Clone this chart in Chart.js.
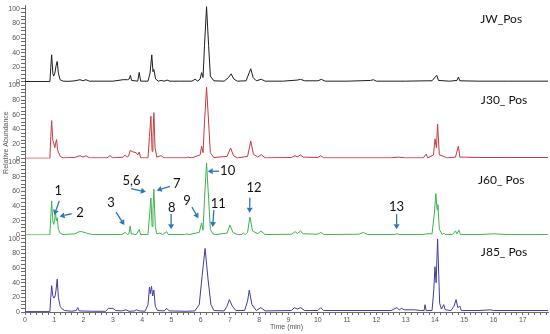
<!DOCTYPE html>
<html><head><meta charset="utf-8">
<script src="https://cdn.jsdelivr.net/npm/chart.js@4.4.1/dist/chart.umd.min.js"></script>
<style>html,body{margin:0;padding:0;background:#fff;}#wrap{position:relative;width:550px;height:334px;}</style>
</head><body><div id="wrap"><canvas id="c" width="550" height="334"></canvas></div>
<script>
// ---------- DATA ----------
const seriesNames = ['JW_Pos', 'J30_ Pos', 'J60_ Pos', 'J85_ Pos'];

const jwTime = [0,0.85,0.88,0.91,0.95,0.98,1.02,1.06,1.10,1.14,1.2,1.3,1.5,1.7,1.88,1.98,2.08,2.2,2.6,3.0,3.35,3.5,3.56,3.6,3.64,3.85,3.9,3.95,4.2,4.27,4.33,4.37,4.40,4.46,4.55,4.65,4.75,4.85,4.95,5.3,5.7,5.81,5.9,5.98,6.03,6.08,6.13,6.20,6.27,6.33,6.45,6.8,6.95,7.04,7.13,7.25,7.55,7.65,7.71,7.79,7.9,8.07,8.2,8.8,9.3,9.41,9.55,10.0,10.12,10.25,11.0,11.8,11.9,12.0,13.0,13.7,13.9,14.06,14.12,14.5,14.75,14.8,14.85,15.5,16.5,17.86];
const jwAbund = [0.5,0.5,20,37,12,8,12,22,28,12,3,1,0.8,1.5,3,1.5,3,1,1,1,3,3,4,9,2,1,13,1,1,12,37,14,17,4,1,2,1,2.5,1,1,1,3.6,1,4,12.6,6,50,103,50,8,1.5,1,6,11,4,1,1.5,12,18,6,1.5,3.6,1,1,2.5,3.5,1.5,1.5,3.5,1,1,2,3,1,1,1.5,1.5,9,2,1,2,6.7,1.5,1,1,1];

const j30Time = [0,0.85,0.88,0.91,0.95,0.99,1.02,1.05,1.08,1.11,1.15,1.2,1.3,1.7,1.88,1.98,2.08,2.2,2.8,2.9,3.0,3.35,3.42,3.5,3.55,3.59,3.7,3.8,3.85,3.9,3.95,4.2,4.25,4.30,4.34,4.37,4.40,4.44,4.5,4.65,4.75,5.5,5.55,5.7,5.98,6.03,6.08,6.13,6.20,6.27,6.33,6.45,6.9,7.02,7.12,7.25,7.6,7.71,7.8,7.95,8.07,8.2,9.1,9.22,9.3,9.41,9.5,10.0,10.1,10.2,12.5,12.75,13.0,13.6,13.7,13.75,13.95,14.0,14.05,14.09,14.15,14.3,14.4,14.7,14.8,14.85,15.0,15.5,16.5,17.86];
const j30Abund = [0.5,0.5,30,52,25,20,15,22,26,12,8,3,1,1.5,4,2,4,1,1,4,1,2,5,2,5,11,9,8,5,9,1,1,30,58,10,30,63,15,2,4,1,1,2,1,5,17,8,50,98,50,8,1.5,3,14.6,4,1,3,24,6,2,5.5,1,1.5,4,2.5,5,2,1.5,4,1,1,2,1,1,6,1,5,27,15,47,5,3,1,2,17,2,2,1.5,1.5,1.5];

const j60Time = [0,0.85,0.88,0.91,0.95,0.98,1.01,1.04,1.07,1.10,1.14,1.2,1.3,1.7,1.85,1.94,2.1,2.3,3.3,3.42,3.5,3.55,3.59,3.63,3.8,3.9,3.95,4.2,4.26,4.30,4.34,4.37,4.40,4.45,4.5,4.6,4.7,4.84,4.9,5.45,5.53,5.6,5.95,6.03,6.08,6.13,6.20,6.27,6.33,6.42,6.5,6.9,7.0,7.1,7.25,7.4,7.46,7.52,7.6,7.68,7.77,7.95,8.05,8.2,9.1,9.22,9.3,9.41,9.5,10.0,10.1,10.2,11.4,11.56,11.7,12.6,12.7,12.8,13.6,13.7,13.9,13.98,14.03,14.07,14.1,14.15,14.25,14.3,14.35,14.6,14.7,14.75,14.82,14.87,15.5,16.0,16.5,17.86];
const j60Abund = [0.5,0.5,25,47,20,15,20,32,20,24,8,3,1,2,5,5,3,1,1,4,1,2,12.7,2,1,8,1,1,30,51,12,35,63,12,2,3,1,5,1,1,2,1,4,17,7,50,99,50,8,2,1,3,14,4,1,1,3,1,4,25,6,2,6,1,1.5,5,2.5,6,2,1.5,4,1,1.5,4,1,1,2,1,1,2,2,30,57,35,42,8,1,3,1,1,6,2,7,1,1,2,1,1];

const j85Time = [0,0.85,0.88,0.91,0.95,0.99,1.03,1.06,1.10,1.14,1.2,1.25,1.35,1.6,1.75,1.8,1.85,2.3,2.75,2.85,3.0,3.1,3.3,3.45,3.55,3.75,3.8,3.9,4.1,4.2,4.25,4.28,4.32,4.36,4.40,4.45,4.52,4.75,4.84,4.92,5.5,5.8,5.95,6.05,6.15,6.25,6.35,6.45,6.8,6.9,6.98,7.08,7.2,7.5,7.6,7.66,7.75,7.9,8.05,8.2,9.1,9.2,9.3,9.41,9.55,10.0,10.1,10.2,12.5,12.7,12.78,12.86,12.95,13.3,13.5,13.63,13.66,13.7,13.9,13.96,14.0,14.04,14.09,14.13,14.16,14.22,14.3,14.35,14.55,14.65,14.72,14.78,14.85,14.9,15.5,15.9,16.0,17.86];
const j85Abund = [0.5,0.5,20,36,22,19,22,30,45,20,8,5,2,1,2,6,1.5,1,1,5,5,2,1.5,3,1,1.5,3,1.5,1,10,34,25,35,22,30,8,2,1.5,5,1.5,1,1.5,10,50,87,45,10,2,1.5,8,17,8,2,2,15,30,10,2,6,1.5,2,6,4,6,2,2,6,2,2,6,3,5,3,3,2,2,10,2,2,30,62,40,100,50,12,4,10,3,2,8,17,6,8,2,2,3,2,2];

const yTickLabels = ['0','20','40','60','80','100'];

// Annotations in the J60 panel (time, relative abundance)
const annoLabels    = ['1','2','3','5,6','7','8','9','10','11','12','13'];
const annoTextTime  = [1.14,1.88,2.94,3.64,5.18,5.01,5.53,6.92,6.60,7.82,12.69];
const annoTextAbund = [61,30.8,44.5,74,70.4,37.7,47.7,87.7,43.1,65,38.6];
const arrowFromTime = [1.17,1.59,3.11,3.62,4.95,4.99,5.70,6.63,6.45,7.68,12.69];
const arrowFromAbund= [47,29.5,31.8,64,67,29,38.6,87.7,34.5,51.3,29];
const arrowToTime   = [1.00,1.18,3.39,4.13,4.50,4.99,5.92,6.24,6.41,7.67,12.69];
const arrowToAbund  = [27.7,25.6,14,59.5,61.4,8.2,23.2,87.7,11.3,30.8,8.2];

// Panel label anchors (time, abundance)
const panelLabelTime  = [16.26,16.36,16.26,16.36];
const panelLabelAbund = [86,80,75.4,82];

// ---------- CHART ----------
const panelIds = ['yJW','yJ30','yJ60','yJ85'];
const panelColors = ['#1e1e1e','#c8393d','#3cb34a','#3d3da0'];
const times = [jwTime, j30Time, j60Time, j85Time];
const abunds = [jwAbund, j30Abund, j60Abund, j85Abund];

function yAxis(w){
  return {
    type:'linear', position:'left', stack:'panels', stackWeight:1, weight:w,
    min:0, max:105,
    border:{color:'#6a6a6a', width:1},
    grid:{drawOnChartArea:false, drawTicks:true, tickLength:4, color:'#6a6a6a'},
    ticks:{stepSize:5, autoSkip:false, padding:1, color:'#555',
      font:{size:7, family:'Liberation Sans'},
      callback:(v)=> yTickLabels.includes(String(v)) ? String(v) : ''},
    afterBuildTicks:(s)=>{ s.ticks = s.ticks.filter(t=>t.value<=100); },
    afterFit:(s)=>{ s.width = 25; }
  };
}

const overlay = {
  id:'overlay',
  afterDatasetsDraw(chart){
    const ctx = chart.ctx, xs = chart.scales.x;
    ctx.save();
    // panel labels
    ctx.fillStyle = '#111';
    ctx.font = '12px Lato';
    ctx.textAlign = 'center'; ctx.textBaseline = 'middle';
    panelIds.forEach((id,i)=>{
      const ys = chart.scales[id];
      ctx.fillText(seriesNames[i], xs.getPixelForValue(panelLabelTime[i]), ys.getPixelForValue(panelLabelAbund[i]));
    });
    // arrows
    const y60 = chart.scales.yJ60;
    ctx.strokeStyle = '#2e75b6'; ctx.fillStyle = '#2e75b6'; ctx.lineWidth = 1.3;
    for (let i=0;i<annoLabels.length;i++){
      const fx = xs.getPixelForValue(arrowFromTime[i]), fy = y60.getPixelForValue(arrowFromAbund[i]);
      const tx = xs.getPixelForValue(arrowToTime[i]), ty = y60.getPixelForValue(arrowToAbund[i]);
      const ang = Math.atan2(ty-fy, tx-fx), hl = 5, hw = 3;
      const bx = tx - hl*Math.cos(ang), by = ty - hl*Math.sin(ang);
      ctx.beginPath(); ctx.moveTo(fx,fy); ctx.lineTo(bx,by); ctx.stroke();
      ctx.beginPath(); ctx.moveTo(tx,ty);
      ctx.lineTo(bx + hw*Math.sin(ang), by - hw*Math.cos(ang));
      ctx.lineTo(bx - hw*Math.sin(ang), by + hw*Math.cos(ang));
      ctx.closePath(); ctx.fill();
    }
    ctx.fillStyle = '#111';
    ctx.font = '13px Lato';
    for (let i=0;i<annoLabels.length;i++){
      ctx.fillText(annoLabels[i], xs.getPixelForValue(annoTextTime[i]), y60.getPixelForValue(annoTextAbund[i]));
    }
    // y axis title
    const ca = chart.chartArea;
    ctx.translate(6, (ca.top+ca.bottom)/2 - 16);
    ctx.rotate(-Math.PI/2);
    ctx.fillStyle = '#555'; ctx.font = '7px "Liberation Sans"';
    ctx.fillText('Relative Abundance', 0, 0);
    ctx.restore();
  }
};

const scales = {
  x:{
    type:'linear', position:'bottom', min:0, max:17.86,
    border:{color:'#6a6a6a', width:1},
    grid:{drawOnChartArea:false, drawTicks:true, tickLength:3, color:'#6a6a6a'},
    ticks:{stepSize:0.2, autoSkip:false, includeBounds:false, maxRotation:0, padding:1, color:'#555',
      font:{size:7, family:'Liberation Sans'},
      callback:(v)=> Math.abs(v-Math.round(v))<1e-6 ? String(Math.round(v)) : ''},
    title:{display:true, text:'Time (min)', color:'#555', font:{size:7, family:'Liberation Sans'}, padding:{top:0,bottom:3}},
    afterFit:(s)=>{ s.height = 22; }
  },
  yJW: yAxis(4), yJ30: yAxis(3), yJ60: yAxis(2), yJ85: yAxis(1)
};

new Chart(document.getElementById('c'), {
  type:'line',
  data:{
    datasets: panelIds.map((id,i)=>({
      label: seriesNames[i],
      data: times[i].map((t,k)=>({x:t, y:abunds[i][k]})),
      xAxisID:'x', yAxisID:id,
      borderColor: panelColors[i], borderWidth:1,
      pointRadius:0, fill:false, tension:0
    }))
  },
  options:{
    responsive:false, devicePixelRatio:1, animation:false,
    layout:{padding:{top:3, right:2, left:0, bottom:0}},
    plugins:{legend:{display:false}, tooltip:{enabled:false}},
    scales
  },
  plugins:[overlay]
});
</script></body></html>
